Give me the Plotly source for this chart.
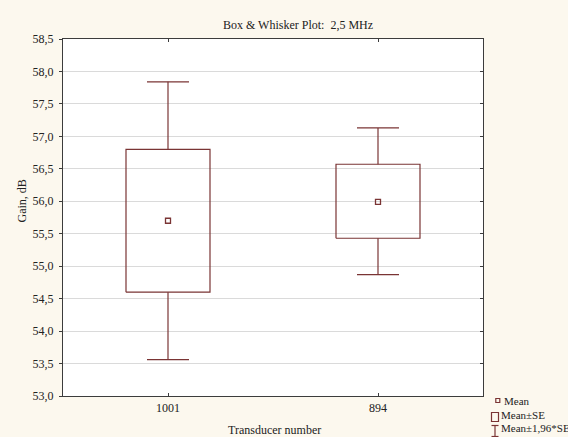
import plotly.graph_objects as go

# ---- data ----
categories = ["1001", "894"]
means = [55.70, 55.99]
se_low = [54.60, 55.43]
se_high = [56.80, 56.57]
ci_low = [53.56, 54.87]
ci_high = [57.84, 57.13]
y_ticks = [53.0, 53.5, 54.0, 54.5, 55.0, 55.5, 56.0, 56.5, 57.0, 57.5, 58.0, 58.5]

W, H = 568, 437
L, R, T, B = 63, 85, 39, 41
PW, PH = W - L - R, H - T - B

COL = "#7a3434"
AXC = "#3c3c3c"
FONT = "Liberation Serif, Times New Roman, serif"
BOX_HW = 0.2
CAP_HW = 0.1

fig = go.Figure()

for i, cat in enumerate(categories):
    # Mean ± SE box
    fig.add_trace(go.Scatter(
        x=[i - BOX_HW, i + BOX_HW, i + BOX_HW, i - BOX_HW, i - BOX_HW],
        y=[se_low[i], se_low[i], se_high[i], se_high[i], se_low[i]],
        mode="lines", line=dict(color=COL, width=1.2),
        hoverinfo="skip", showlegend=False))
    # whiskers (Mean ± 1.96*SE)
    fig.add_trace(go.Scatter(
        x=[i, i, None, i - CAP_HW, i + CAP_HW, None, i, i, None, i - CAP_HW, i + CAP_HW],
        y=[se_high[i], ci_high[i], None, ci_high[i], ci_high[i], None,
           se_low[i], ci_low[i], None, ci_low[i], ci_low[i]],
        mode="lines", line=dict(color=COL, width=1.2),
        hoverinfo="skip", showlegend=False))

fig.add_trace(go.Scatter(
    x=list(range(len(categories))), y=means, mode="markers",
    marker=dict(symbol="square-open", size=5, color=COL, line=dict(width=1.3, color=COL)),
    showlegend=False))

# invisible trace to activate right axis
fig.add_trace(go.Scatter(x=[0], y=[means[0]], yaxis="y2", mode="markers",
                         marker=dict(opacity=0), hoverinfo="skip", showlegend=False))

def px(xp):
    return (xp - L) / PW

def py(yp):
    return (H - B - yp) / PH

shapes = []
# legend: small mean square
shapes.append(dict(type="rect", xref="paper", yref="paper",
                   x0=px(495.8), x1=px(499.8), y0=py(402.5), y1=py(398.5),
                   line=dict(color=COL, width=1.2), fillcolor="rgba(0,0,0,0)"))
# legend: SE box
shapes.append(dict(type="rect", xref="paper", yref="paper",
                   x0=px(491.5), x1=px(498.5), y0=py(421.5), y1=py(412.5),
                   line=dict(color=COL, width=1.2), fillcolor="rgba(0,0,0,0)"))
# legend: whisker I-beam
shapes.append(dict(type="line", xref="paper", yref="paper",
                   x0=px(495), x1=px(495), y0=py(425.5), y1=py(436.5),
                   line=dict(color=COL, width=1.2)))
shapes.append(dict(type="line", xref="paper", yref="paper",
                   x0=px(491.5), x1=px(498.5), y0=py(425.5), y1=py(425.5),
                   line=dict(color=COL, width=1.2)))
shapes.append(dict(type="line", xref="paper", yref="paper",
                   x0=px(491.5), x1=px(498.5), y0=py(436.5), y1=py(436.5),
                   line=dict(color=COL, width=1.2)))

LEG_FONT = dict(size=11, family=FONT, color="#222")
annotations = [
    dict(text="Box & Whisker Plot:  2,5 MHz", xref="paper", yref="paper",
         x=px(298), y=py(25), xanchor="center", yanchor="middle", showarrow=False,
         font=dict(size=12, family=FONT, color="#222")),
    dict(text="Transducer number", xref="paper", yref="paper",
         x=px(274), y=py(430), xanchor="center", yanchor="middle", showarrow=False,
         font=dict(size=12, family=FONT, color="#222")),
    dict(text="Gain, dB", xref="paper", yref="paper", textangle=-90,
         x=px(21.5), y=py(201), xanchor="center", yanchor="middle", showarrow=False,
         font=dict(size=12, family=FONT, color="#222")),
    dict(text="Mean", xref="paper", yref="paper",
         x=px(501.5), y=py(400.5), xanchor="left", yanchor="middle", showarrow=False,
         font=LEG_FONT),
    dict(text="Mean±SE", xref="paper", yref="paper",
         x=px(499), y=py(415), xanchor="left", yanchor="middle", showarrow=False,
         font=LEG_FONT),
    dict(text="Mean±1,96*SE", xref="paper", yref="paper",
         x=px(499), y=py(428.5), xanchor="left", yanchor="middle", showarrow=False,
         font=LEG_FONT),
]

fig.update_layout(
    width=W, height=H,
    margin=dict(l=L, r=R, t=T, b=B, pad=0),
    paper_bgcolor="#fcf8ee", plot_bgcolor="#ffffff",
    separators=", ",
    font=dict(family=FONT, size=12, color="#222"),
    shapes=shapes, annotations=annotations,
    xaxis=dict(range=[-0.5, len(categories) - 0.5], tickmode="array",
               tickvals=list(range(len(categories))), ticktext=categories,
               ticks="inside", ticklen=3, tickcolor=AXC, mirror="ticks",
               showline=True, linecolor=AXC, linewidth=1.3,
               showgrid=False, zeroline=False,
               tickfont=dict(size=12, family=FONT, color="#222")),
    yaxis=dict(range=[53.0, 58.5], tickmode="array", tickvals=y_ticks,
               tickformat=".1f", ticks="outside", ticklen=3, tickcolor=AXC,
               showline=True, linecolor=AXC, linewidth=1.3,
               showgrid=True, gridcolor="#dadada", gridwidth=1,
               zeroline=False, ticklabelstandoff=3,
               tickfont=dict(size=12, family=FONT, color="#222")),
    yaxis2=dict(range=[53.0, 58.5], overlaying="y", side="right",
                tickmode="array", tickvals=y_ticks, ticks="inside", ticklen=3,
                tickcolor=AXC, showticklabels=False, showline=True,
                linecolor=AXC, linewidth=1.3, showgrid=False, zeroline=False),
)

fig.write_html("out.html", config={"displayModeBar": False},
               post_script="document.body.style.margin='0';document.body.style.overflow='hidden';")
